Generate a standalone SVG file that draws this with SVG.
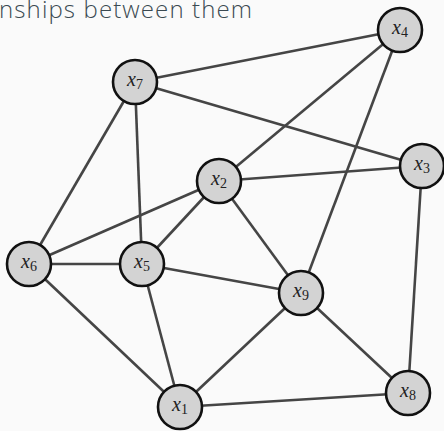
<svg xmlns="http://www.w3.org/2000/svg" width="444" height="431" viewBox="0 0 444 431">
  <style>
    .edge { stroke: #454545; stroke-width: 2.6; fill: none; }
    .node circle { fill: #d3d3d3; stroke: #111; stroke-width: 2.6; }
    .lbl { font-family: "Liberation Serif", "DejaVu Serif", serif; font-size: 20px; fill: #222; text-anchor: middle; }
    .lbl tspan.v { font-style: italic; }
    .lbl tspan.s { font-size: 14px; }
    .title { font-family: "Open Sans", "Noto Sans", sans-serif; font-weight: 300; font-size: 24px; fill: #3b4a52; }
  </style>
  <rect width="444" height="431" fill="#fafafa"/>
  <text class="title" x="-1" y="18" textLength="253" lengthAdjust="spacing">nships between them</text>

  <g id="edges">
    <line class="edge" x1="135" y1="82" x2="400" y2="30"/>
    <line class="edge" x1="135" y1="82" x2="422" y2="166"/>
    <line class="edge" x1="135" y1="82" x2="29" y2="264"/>
    <line class="edge" x1="135" y1="82" x2="142" y2="264"/>
    <line class="edge" x1="400" y1="30" x2="219" y2="181"/>
    <line class="edge" x1="400" y1="30" x2="301" y2="293"/>
    <line class="edge" x1="219" y1="181" x2="422" y2="166"/>
    <line class="edge" x1="219" y1="181" x2="29" y2="264"/>
    <line class="edge" x1="219" y1="181" x2="142" y2="264"/>
    <line class="edge" x1="219" y1="181" x2="301" y2="293"/>
    <line class="edge" x1="29" y1="264" x2="142" y2="264"/>
    <line class="edge" x1="29" y1="264" x2="180" y2="407"/>
    <line class="edge" x1="142" y1="264" x2="301" y2="293"/>
    <line class="edge" x1="142" y1="264" x2="180" y2="407"/>
    <line class="edge" x1="301" y1="293" x2="180" y2="407"/>
    <line class="edge" x1="301" y1="293" x2="408" y2="393"/>
    <line class="edge" x1="422" y1="166" x2="408" y2="393"/>
    <line class="edge" x1="180" y1="407" x2="408" y2="393"/>
  </g>

  <g id="x1" class="node"><circle cx="180" cy="407" r="22"/><text class="lbl" x="180" y="411"><tspan class="v">x</tspan><tspan class="s" dy="3">1</tspan></text></g>
  <g id="x2" class="node"><circle cx="219" cy="181" r="22"/><text class="lbl" x="219" y="185"><tspan class="v">x</tspan><tspan class="s" dy="3">2</tspan></text></g>
  <g id="x3" class="node"><circle cx="422" cy="166" r="22"/><text class="lbl" x="422" y="170"><tspan class="v">x</tspan><tspan class="s" dy="3">3</tspan></text></g>
  <g id="x4" class="node"><circle cx="400" cy="30" r="22"/><text class="lbl" x="400" y="34"><tspan class="v">x</tspan><tspan class="s" dy="3">4</tspan></text></g>
  <g id="x5" class="node"><circle cx="142" cy="264" r="22"/><text class="lbl" x="142" y="268"><tspan class="v">x</tspan><tspan class="s" dy="3">5</tspan></text></g>
  <g id="x6" class="node"><circle cx="29" cy="264" r="22"/><text class="lbl" x="29" y="268"><tspan class="v">x</tspan><tspan class="s" dy="3">6</tspan></text></g>
  <g id="x7" class="node"><circle cx="135" cy="82" r="22"/><text class="lbl" x="135" y="86"><tspan class="v">x</tspan><tspan class="s" dy="3">7</tspan></text></g>
  <g id="x8" class="node"><circle cx="408" cy="393" r="22"/><text class="lbl" x="408" y="397"><tspan class="v">x</tspan><tspan class="s" dy="3">8</tspan></text></g>
  <g id="x9" class="node"><circle cx="301" cy="293" r="22"/><text class="lbl" x="301" y="297"><tspan class="v">x</tspan><tspan class="s" dy="3">9</tspan></text></g>
</svg>
